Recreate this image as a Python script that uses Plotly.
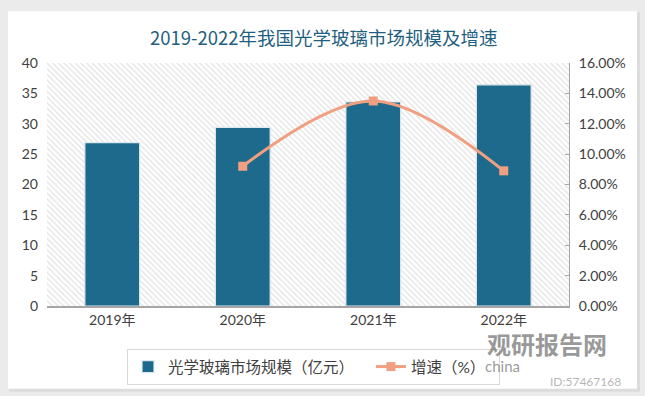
import plotly.graph_objects as go

years = ["2019年", "2020年", "2021年", "2022年"]
market_size = [26.9, 29.4, 33.6, 36.4]          # 亿元
growth_years = ["2020年", "2021年", "2022年"]
growth_rate = [0.092, 0.135, 0.089]              # 增速

BAR_COLOR = "#1D6A8C"
LINE_COLOR = "#F0A080"
TXT = "#404040"
FONT = "Lato, 'Noto Sans CJK SC', sans-serif"

fig = go.Figure()

# hatched plot background (base subplot, unit square)
fig.add_trace(go.Scatter(
    x=[0, 1, 1, 0, 0], y=[0, 0, 1, 1, 0], mode="lines", fill="toself",
    line=dict(width=0), fillcolor="white",
    fillpattern=dict(shape="\\", fgcolor="#c4c4c4", bgcolor="white", size=4, solidity=0.3),
    hoverinfo="skip", showlegend=False, xaxis="x", yaxis="y"))

fig.add_trace(go.Bar(
    x=years, y=market_size, name="光学玻璃市场规模（亿元）   ",
    marker=dict(color=BAR_COLOR, line=dict(color="#dfe8ee", width=1.2)),
    width=0.42, xaxis="x2", yaxis="y2"))

fig.add_trace(go.Scatter(
    x=growth_years, y=growth_rate, name="增速（%）  ", mode="lines+markers",
    line=dict(color=LINE_COLOR, width=3, shape="spline", smoothing=1.0),
    marker=dict(symbol="square", size=9, color=LINE_COLOR),
    xaxis="x2", yaxis="y3"))

W, H = 645, 396
L, R, T, B = 47, 76, 63, 89
pw, ph = W - L - R, H - T - B

def px(xpix):
    return (xpix - L) / pw

def py(ypix):
    return (H - B - ypix) / ph

shapes = [
    dict(type="rect", xref="paper", yref="paper", layer="below",
         x0=px(9), x1=px(640), y0=py(393), y1=py(12),
         fillcolor="#dcdcdc", line=dict(width=0)),
    dict(type="rect", xref="paper", yref="paper", layer="below",
         x0=px(8), x1=px(637), y0=py(390), y1=py(11),
         fillcolor="white", line=dict(width=0)),
]

def ann(text, x, y, size, color, family=FONT):
    return dict(text=text, xref="paper", yref="paper", x=px(x), y=py(y),
                xanchor="center", yanchor="middle", showarrow=False,
                font=dict(family=family, size=size, color=color))

annotations = [
    ann("2019-2022年我国光学玻璃市场规模及增速", 324, 37, 18.5, "#1F5F80",
        "'Noto Sans CJK SC', serif"),
    ann("<b>观研报告网</b>", 547, 345, 24, "rgba(120,120,120,0.75)", "'Noto Sans CJK SC'"),
    ann("china", 502, 367, 15, "rgba(110,110,110,0.7)"),
    ann("ID:57467168", 585, 383, 12, "rgba(150,150,150,0.7)"),
]

fig.update_layout(
    width=W, height=H,
    margin=dict(l=L, r=R, t=T, b=B),
    paper_bgcolor="#ebebeb", plot_bgcolor="rgba(0,0,0,0)",
    font=dict(family=FONT, size=14, color=TXT),
    shapes=shapes, annotations=annotations,
    bargap=0.58,
    xaxis=dict(range=[0, 1], visible=False, fixedrange=True),
    yaxis=dict(range=[0, 1], visible=False, fixedrange=True),
    xaxis2=dict(overlaying="x", anchor="y2", type="category", categoryorder="array",
                categoryarray=years, range=[-0.5, 3.5], showline=True, linecolor="#a6a6a6",
                linewidth=1.5, ticks="", showgrid=False, tickfont=dict(size=14, color=TXT)),
    yaxis2=dict(overlaying="y", anchor="x2", side="left", range=[0, 40], dtick=5,
                showgrid=False, showline=False, ticks="", zeroline=False,
                tickfont=dict(size=14, color=TXT), ticklabelstandoff=8),
    yaxis3=dict(overlaying="y", anchor="x2", side="right", range=[0, 0.16], dtick=0.02,
                tickformat=".2%", showgrid=False, showline=True, linecolor="#a6a6a6",
                linewidth=1, ticks="inside", ticklen=4, tickcolor="#a6a6a6",
                zeroline=False, tickfont=dict(size=14, color=TXT), ticklabelstandoff=6),
    legend=dict(orientation="h", x=px(127), y=py(367), xanchor="left", yanchor="middle",
                bgcolor="rgba(0,0,0,0)", bordercolor="#d9d9d9", borderwidth=1,
                font=dict(size=15.5, color=TXT), itemwidth=30,
                traceorder="normal"),
)

fig.write_html("out.html", config={"displayModeBar": False},
               post_script="document.body.style.margin='0';")
